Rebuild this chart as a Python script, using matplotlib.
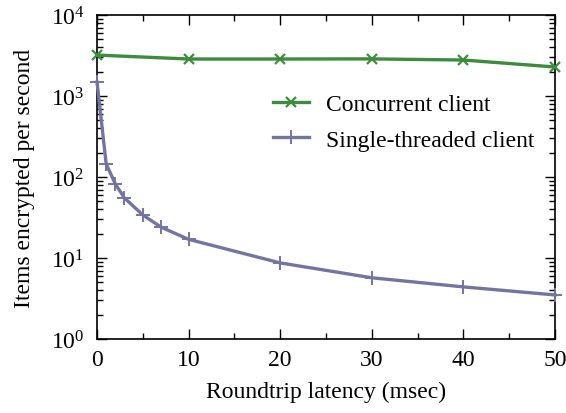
import matplotlib
matplotlib.use("Agg")
import matplotlib.pyplot as plt
from matplotlib.ticker import LogLocator, MultipleLocator, NullFormatter

plt.rcParams['font.family'] = ['Liberation Serif', 'DejaVu Serif']
plt.rcParams['mathtext.fontset'] = 'stix'

conc_x = [0, 10, 20, 30, 40, 50]
conc_y = [3200, 2860, 2860, 2870, 2780, 2280]
single_x = [0, 1, 2, 3, 5, 7, 10, 20, 30, 40, 50]
single_y = [1490, 145, 82, 55, 34, 24, 17, 8.7, 5.7, 4.4, 3.5]

fig = plt.figure(figsize=(5.66, 4.14), dpi=100)
ax = fig.add_axes([0.1714, 0.1787, 0.8092, 0.7827])

ax.plot(conc_x, conc_y, color='#3d8b3d', lw=2.4, marker='x', ms=7.5, mew=1.6,
        label='Concurrent client', clip_on=False, zorder=3)
ax.plot(single_x, single_y, color='#7474a2', lw=2.4, marker='+', ms=10, mew=1.4,
        label='Single-threaded client', clip_on=False, zorder=3)

ax.set_yscale('log')
ax.set_xlim(0, 50)
ax.set_ylim(1, 1e4)
ax.xaxis.set_major_locator(MultipleLocator(10))
ax.xaxis.set_minor_locator(MultipleLocator(5))
ax.yaxis.set_major_locator(LogLocator(base=10, numticks=10))
ax.yaxis.set_minor_locator(LogLocator(base=10, subs=range(2, 10), numticks=20))
ax.yaxis.set_minor_formatter(NullFormatter())
ax.tick_params(which='both', direction='in', top=True, right=True, labelsize=17, width=1)
ax.tick_params(which='major', length=7)
ax.tick_params(axis='x', which='major', pad=7)
ax.tick_params(axis='y', which='major', pad=9)
ax.tick_params(which='minor', length=4)
for s in ax.spines.values():
    s.set_linewidth(1.2)

ax.set_xlabel('Roundtrip latency (msec)', fontsize=17, labelpad=8)
ax.set_ylabel('Items encrypted per second', fontsize=17, labelpad=11)

leg = ax.legend(loc='center left', bbox_to_anchor=(0.384, 0.670), frameon=False, fontsize=17,
                handlelength=1.55, handletextpad=0.7, labelspacing=0.6,
                borderpad=0, borderaxespad=0)

fig.savefig('out.png', dpi=100)
